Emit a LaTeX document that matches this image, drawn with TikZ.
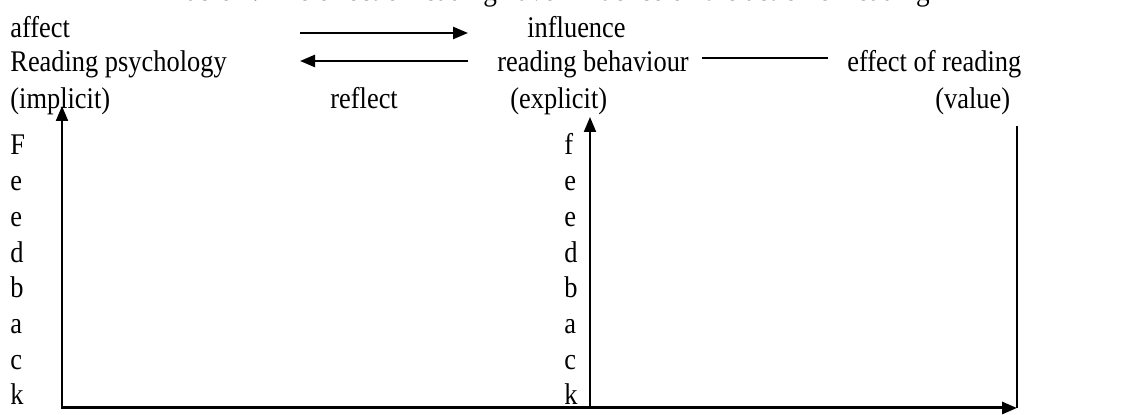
\documentclass[tikz,border=0pt]{standalone}
\usepackage{graphicx}
\usepackage{fontspec}
\setmainfont{Liberation Serif}
\usetikzlibrary{arrows.meta}
\newcommand{\narrow}[1]{\scalebox{0.88}[1]{#1}}
\begin{document}
\begin{tikzpicture}[x=0.5pt,y=-0.5pt,
  txt/.style={anchor=base west, inner sep=0pt, font=\fontsize{15}{16}\selectfont},
  arr/.style={-{Triangle[length=7.5pt,width=6pt]}, line width=1.2pt},
  vline/.style={line width=1pt},
  bline/.style={-{Triangle[length=7.5pt,width=6pt]}, line width=1.5pt}]
\useasboundingbox (0,0) rectangle (1134,415);
\clip (0,0) rectangle (1134,415);
% clipped title line
\node[txt, anchor=base east, font=\fontsize{15.5}{16}\selectfont] (title) at (930,1) {\narrow{Table 1. The effect of reading have influence on the action of reading}};
% row 1
\node[txt] (affect) at (10,38) {\narrow{affect}};
\node[txt] (influence) at (527,38) {\narrow{influence}};
% row 2
\node[txt] (psy) at (10,72) {\narrow{Reading psychology}};
\node[txt] (beh) at (497,72) {\narrow{reading behaviour}};
\node[txt] (eff) at (847,72) {\narrow{effect of reading}};
% row 3
\node[txt] (impl) at (10,109) {\narrow{(implicit)}};
\node[txt] (reflect) at (330,109) {\narrow{reflect}};
\node[txt] (expl) at (510,109) {\narrow{(explicit)}};
\node[txt] (value) at (935,109) {\narrow{(value)}};
% left column
\foreach \ch [count=\i] in {F,e,e,d,b,a,c,k} {
  \node[txt] (L\i) at (10,{155+35.7*(\i-1)}) {\narrow{\ch}};
}
% middle column
\foreach \ch [count=\i] in {f,e,e,d,b,a,c,k} {
  \node[txt] (M\i) at (564,{155+35.7*(\i-1)}) {\narrow{\ch}};
}
% connector end points
\coordinate (a1s) at (300,33);
\coordinate (a1e) at (468,33);
\coordinate (a2s) at (468,61);
\coordinate (a2e) at (300,61);
\coordinate (ls) at (702,58);
\coordinate (le) at (828,58);
\coordinate (lvB) at (62,406);
\coordinate (lvT) at (62,106);
\coordinate (mvB) at (590,408);
\coordinate (mvT) at (590,117);
\coordinate (rvT) at (1017,126);
\coordinate (rvB) at (1017,408);
\coordinate (bS) at (61,408);
% connectors
\draw[arr] (a1s) -- (a1e);
\draw[arr] (a2s) -- (a2e);
\draw[vline] (ls) -- (le);
\draw[arr, line width=1pt] (lvB) -- (lvT);
\draw[arr, line width=1pt] (mvB) -- (mvT);
\draw[vline] (rvT) -- (rvB);
\draw[bline] (bS) -- (rvB);
\end{tikzpicture}
\end{document}
